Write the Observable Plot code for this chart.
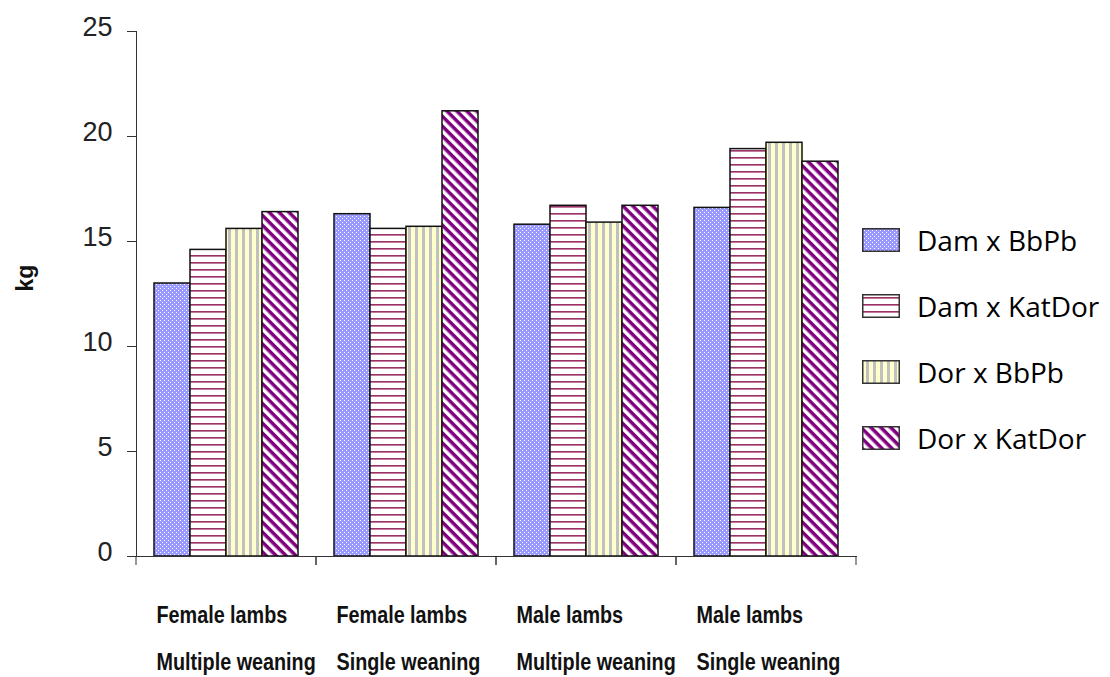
<!DOCTYPE html>
<html>
<head>
<meta charset="utf-8">
<script src="https://cdn.jsdelivr.net/npm/d3@7"></script>
<script src="https://cdn.jsdelivr.net/npm/@observablehq/plot@0.6"></script>
<style>
  body { margin: 0; background: #fff; }
  #chart { position: relative; width: 1110px; height: 677px; overflow: hidden; background: #fff; }
  #legend { position: absolute; left: 862px; top: 207px; font-family: "Open Sans", sans-serif; font-size: 28px; color: #000; }
  #legend .row { display: flex; align-items: center; height: 66px; white-space: nowrap; }
  #legend svg { margin-right: 17px; flex: none; }
</style>
</head>
<body>
<!-- fill patterns shared by the bars and the legend swatches -->
<svg width="0" height="0" style="position:absolute">
  <defs>
    <pattern id="pat-dots" patternUnits="userSpaceOnUse" width="4" height="4">
      <rect width="4" height="4" fill="#9999ff"/>
      <rect x="0" y="0" width="1" height="1" fill="#ffffff"/>
      <rect x="2" y="2" width="1" height="1" fill="#ffffff"/>
    </pattern>
    <pattern id="pat-hlines" patternUnits="userSpaceOnUse" width="8" height="7">
      <rect width="8" height="7" fill="#ffffff"/>
      <rect y="3" width="8" height="1" fill="#993366"/>
      <rect y="4" width="8" height="1" fill="#c27a9c"/>
    </pattern>
    <pattern id="pat-vlines" patternUnits="userSpaceOnUse" width="7" height="7">
      <rect width="7" height="7" fill="#ffffcc"/>
      <rect x="4" width="3" height="7" fill="#c0c0c0"/>
    </pattern>
    <pattern id="pat-diag" patternUnits="userSpaceOnUse" width="7" height="7" patternTransform="rotate(45)">
      <rect width="7" height="7" fill="#ffffff"/>
      <rect width="7" height="3.5" fill="#800080"/>
    </pattern>
  </defs>
</svg>
<div id="chart"><div id="legend"></div></div>
<script>
// Lamb groups (sex / weaning type)
const groups = [
  "Female lambs\nMultiple weaning",
  "Female lambs\nSingle weaning",
  "Male lambs\nMultiple weaning",
  "Male lambs\nSingle weaning"
];

// Crosses (dam x sire)
const series = ["Dam x BbPb", "Dam x KatDor", "Dor x BbPb", "Dor x KatDor"];

// Weights in kg, one value per group
const damBbPb   = [13.0, 16.3, 15.8, 16.6];
const damKatDor = [14.6, 15.6, 16.7, 19.4];
const dorBbPb   = [15.6, 15.7, 15.9, 19.7];
const dorKatDor = [16.4, 21.2, 16.7, 18.8];

const yTicks = [0, 5, 10, 15, 20, 25];
const yLabel = "kg";

const patternUrls = ["url(#pat-dots)", "url(#pat-hlines)", "url(#pat-vlines)", "url(#pat-diag)"];

const valuesBySeries = [damBbPb, damKatDor, dorBbPb, dorKatDor];
const rows = groups.flatMap((g, i) =>
  series.map((s, j) => ({group: g, series: s, value: valuesBySeries[j][i]}))
);

// short downward ticks at the edges of each group along the baseline
function groupTicks(index, scales) {
  const [x0, x1] = scales.x.range();
  const y0 = scales.y(0);
  const g = d3.create("svg:g").attr("stroke", "#333").attr("stroke-width", 1);
  for (const x of [x0, x1]) {
    g.append("line").attr("x1", x).attr("x2", x).attr("y1", y0).attr("y2", y0 + 9);
  }
  return g.node();
}

const chart = Plot.plot({
  width: 1110,
  height: 677,
  marginLeft: 136,
  marginRight: 254,
  marginTop: 31,
  marginBottom: 121,
  style: {background: "transparent", color: "#222", fontFamily: "'Liberation Sans', Arial, sans-serif", overflow: "visible"},
  fx: {domain: groups, padding: 0, axis: null, label: null},
  x: {domain: series, paddingInner: 0, paddingOuter: 0.47, axis: null, label: null},
  y: {domain: [0, 25]},
  color: {domain: series, range: patternUrls},
  marks: [
    Plot.barY(rows, {fx: "group", x: "series", y: "value", fill: "series", stroke: "#111", strokeWidth: 1.5}),
    Plot.frame({anchor: "bottom", stroke: "#333"}),
    groupTicks,
    Plot.frame({anchor: "left", facetAnchor: "left", stroke: "#333"}),
    // tick marks only
    Plot.axisY({ticks: yTicks, tickSize: 9, tickFormat: () => "", color: "#333", label: null}),
    // tick labels, set slightly above their ticks
    Plot.axisY({ticks: yTicks, tickSize: 0, tickPadding: 24, fontSize: 27, dy: -4, color: "#222", label: null}),
    Plot.text([yLabel], {
      frameAnchor: "left", facetAnchor: "left", rotate: -90,
      dx: -111, dy: -16, textAnchor: "middle", lineAnchor: "middle",
      fontSize: 23, fontWeight: "bold", fill: "#111"
    }),
    Plot.text(groups, {
      fx: d => d,
      text: d => d,
      frameAnchor: "bottom-left",
      textAnchor: "start",
      lineAnchor: "top",
      dx: 20,
      dy: 33,
      lineHeight: 2.04,
      fontSize: 23,
      fontWeight: "bold",
      fill: "#111"
    })
  ]
});

// condense the two-line group labels horizontally
chart.querySelectorAll("text").forEach(t => {
  if (t.querySelector("tspan")) {
    t.setAttribute("transform", ((t.getAttribute("transform") || "") + " scale(0.86,1)").trim());
  }
});

const root = document.getElementById("chart");
root.insertBefore(chart, root.firstChild);

// legend
const legend = d3.select("#legend");
series.forEach((s, i) => {
  const row = legend.append("div").attr("class", "row");
  const sw = row.append("svg").attr("width", 38).attr("height", 24);
  sw.append("rect").attr("x", 0.75).attr("y", 0.75).attr("width", 36.5).attr("height", 22.5)
    .attr("fill", patternUrls[i]).attr("stroke", "#333").attr("stroke-width", 1.5);
  row.append("span").text(s);
});
</script>
</body>
</html>
